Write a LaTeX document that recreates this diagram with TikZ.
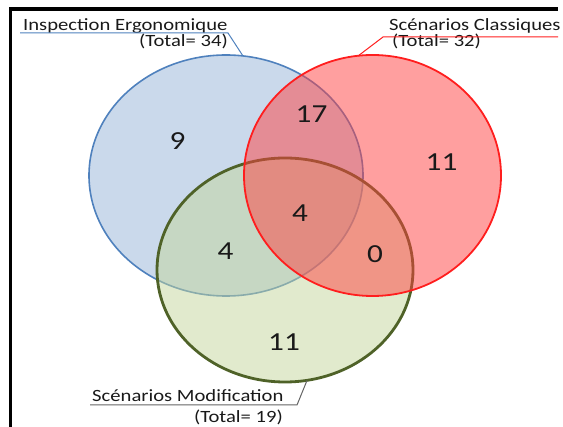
\documentclass[tikz,border=0pt]{standalone}
\usepackage{fontspec}
\setmainfont{Carlito}
\usepackage{tikz}
\definecolor{ergoblue}{RGB}{79,129,189}
\definecolor{ergofill}{RGB}{149,179,215}
\definecolor{classred}{RGB}{255,30,30}
\definecolor{classfill}{RGB}{255,64,64}
\definecolor{modgreen}{RGB}{79,98,40}
\definecolor{modfill}{RGB}{195,214,155}
\definecolor{modline}{RGB}{100,100,100}
\definecolor{ink}{RGB}{25,25,25}
\newcommand{\widetext}[1]{\scalebox{1.2}[1]{#1}}
\tikzstyle{lbl} = [inner sep=0pt, text=ink, font=\fontsize{17.2}{18}\selectfont]
\tikzstyle{num} = [inner sep=0pt, text=ink, font=\fontsize{26}{30}\selectfont]

\begin{document}
\begin{tikzpicture}[yscale=-1]
			\useasboundingbox (0pt,0pt) rectangle (563pt,427pt);
			\draw[line width=3.5pt] (10.5pt,427pt) -- (10.5pt,8.8pt) -- (558pt,8.8pt);
			\draw[ergoblue, line width=1.6pt, fill=ergofill, fill opacity=0.5] (226pt,175.5pt) ellipse [x radius=137pt, y radius=120.5pt];
			\draw[modgreen, line width=2.8pt, fill=modfill, fill opacity=0.5] (285pt,270pt) ellipse [x radius=128pt, y radius=112pt];
			\draw[classred, line width=1.8pt, fill=classfill, fill opacity=0.5] (372.5pt,175.5pt) ellipse [x radius=128.5pt, y radius=120.5pt];
			\node[num] (ergoonly) at (177.5pt,141pt) {\widetext{9}};
			\node[num] (ergoclass) at (311.5pt,114.5pt) {\widetext{17}};
			\node[num] (classonly) at (441.5pt,162pt) {\widetext{11}};
			\node[num] (allthree) at (300pt,213.5pt) {\widetext{4}};
			\node[num] (ergomod) at (225.5pt,251.5pt) {\widetext{4}};
			\node[num] (classmod) at (375pt,254.5pt) {\widetext{0}};
			\node[num] (modonly) at (284pt,342pt) {\widetext{11}};
			\node[lbl, anchor=base west] (ergo) at (23pt,31pt) {\widetext{Inspection Ergonomique}};
			\node[lbl, anchor=base east] (ergotot) at (228pt,47pt) {\widetext{(Total= 34)}};
			\coordinate (ergoa) at (20pt,33pt);
			\coordinate (ergob) at (228pt,33pt);
			\coordinate (ergotip) at (243pt,56pt);
			\draw[ergoblue, line width=1pt] (ergoa) -- (ergob) -- (ergotip);
			\node[lbl, anchor=base west] (class) at (389pt,31pt) {\widetext{Scénarios Classiques}};
			\node[lbl, anchor=base west] (classtot) at (392pt,46.5pt) {\widetext{(Total= 32)}};
			\coordinate (classa) at (558pt,37pt);
			\coordinate (classb) at (383pt,37pt);
			\coordinate (classtip) at (358pt,56pt);
			\draw[classred, line width=1pt] (classa) -- (classb) -- (classtip);
			\node[lbl, anchor=base west] (mod) at (92pt,402pt) {\widetext{Scénarios Modification}};
			\node[lbl, anchor=base east] (modtot) at (283pt,423pt) {\widetext{(Total= 19)}};
			\coordinate (moda) at (90pt,405pt);
			\coordinate (modb) at (297pt,405pt);
			\coordinate (modtip) at (307pt,380.5pt);
			\draw[modline, line width=1pt] (moda) -- (modb) -- (modtip);
		\end{tikzpicture}
\end{document}
